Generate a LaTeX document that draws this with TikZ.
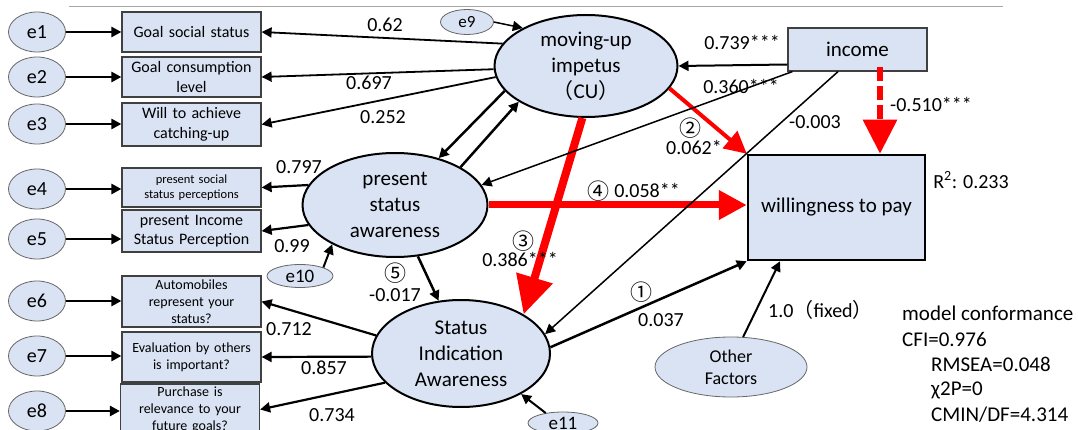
\documentclass[tikz,border=0pt]{standalone}
\usepackage{fontspec}
\setmainfont{Carlito}
\newfontfamily\cjkf{Noto Sans CJK JP}
\usetikzlibrary{arrows.meta,shapes.geometric}
\definecolor{nodefill}{HTML}{DAE3F3}
\definecolor{redc}{HTML}{FF0000}
\newcommand\szBig{\fontsize{21}{26}\selectfont}
\newcommand\szNum{\fontsize{20}{24}\selectfont}
\newcommand\szBox{\fontsize{16}{19.5}\selectfont}
\newcommand\szMid{\fontsize{14}{17}\selectfont}
\newcommand\szSmall{\fontsize{12.5}{15}\selectfont}
\begin{document}
\begin{tikzpicture}[x=1pt,y=-1pt,
  errE/.style={ellipse,draw=black!60,line width=0.8pt,fill=nodefill,minimum width=57pt,minimum height=40pt,inner sep=0pt,font=\fontsize{20}{24}\selectfont},
  smallE/.style={ellipse,draw=black!60,line width=0.8pt,fill=nodefill,inner sep=0pt,font=\fontsize{19}{22}\selectfont},
  obs/.style={rectangle,draw=black!75,line width=1.2pt,fill=nodefill,minimum width=139pt,inner sep=1pt,align=center,text width=135pt,font=\szBox},
  lat/.style={ellipse,draw=black,line width=2pt,fill=nodefill,inner sep=0pt,align=center,font=\szBig},
  arrT/.style={-{Triangle[length=10pt,width=10pt]},line width=1.8pt},
  lab/.style={inner sep=0pt,font=\szNum},
  circ/.style={inner sep=0pt,font=\cjkf\fontsize{22}{24}\selectfont}
]
\useasboundingbox (0,0) rectangle (1078,430);
\draw[black!35,line width=1pt] (69,7) -- (1003,7);

% error terms
\node[errE] (e1) at (37,32) {e1};
\node[errE] (e2) at (37,77) {e2};
\node[errE] (e3) at (37,124) {e3};
\node[errE] (e4) at (37,189) {e4};
\node[errE] (e5) at (37,239) {e5};
\node[errE] (e6) at (37,301) {e6};
\node[errE] (e7) at (37,356) {e7};
\node[errE] (e8) at (37,411) {e8};

% observed boxes
\node[obs,minimum height=40pt] (b1) at (191.5,32) {Goal social status};
\node[obs,minimum height=40pt] (b2) at (191.5,77) {Goal consumption\\level};
\node[obs,minimum height=43pt] (b3) at (191.5,124.5) {Will to achieve\\catching-up};
\node[obs,minimum height=39pt,font=\szSmall] (b4) at (191.5,187.5) {present social\\status perceptions};
\node[obs,minimum height=42pt] (b5) at (191.5,231) {present Income\\Status Perception};
\node[obs,minimum height=51pt,font=\szMid] (b6) at (191.5,301.5) {Automobiles\\represent your\\status?};
\node[obs,minimum height=50pt,font=\szMid] (b7) at (191.5,357) {Evaluation by others\\is important?};
\node[obs,minimum height=51pt,font=\szMid] (b8) at (190,409.5) {Purchase is\\relevance to your\\future goals?};

% latent
\node[lat,minimum width=183pt,minimum height=102pt] (mu) at (586,66) {moving-up\\impetus\\{\cjkf （}CU{\cjkf ）}};
\node[lat,minimum width=185pt,minimum height=104pt] (pr) at (395,205) {present\\status\\awareness};
\node[lat,minimum width=178pt,minimum height=107pt] (sia) at (461,353.5) {Status\\Indication\\Awareness};
\node[smallE,minimum width=53pt,minimum height=25pt,font=\fontsize{17}{20}\selectfont] (e9) at (467,22) {e9};
\node[smallE,minimum width=66pt,minimum height=23pt] (e10) at (300,276) {e10};
\node[smallE,minimum width=70pt,minimum height=22pt] (e11) at (563,423) {e11};
\node[smallE,minimum width=152pt,minimum height=60pt,align=center,font=\fontsize{18}{22}\selectfont] (oth) at (731,367) {Other\\Factors};
\node[rectangle,draw=black!75,line width=1.2pt,fill=nodefill,minimum width=139pt,minimum height=43pt,font=\szBig] (inc) at (857.5,49.5) {income};
\node[rectangle,draw=black,line width=2.5pt,fill=nodefill,minimum width=177pt,minimum height=105pt,font=\szBig] (wtp) at (836.5,207.5) {willingness to pay};

% e -> boxes
\foreach \i in {1,...,8}{
  \draw[arrT,line width=2.5pt] (e\i.east) -- (e\i.east -| b\i.west);
}

% red paths
\draw[redc,line width=4pt,-{Triangle[length=22pt,width=22pt]}] (mu.345) -- (wtp.north west);
\draw[redc,line width=7pt,-{Triangle[length=28pt,width=28pt]}] (pr.east) -- (pr.east -| wtp.west);
\draw[redc,line width=8pt,-{Triangle[length=38pt,width=36pt]}] (mu.266) -- (sia.32);
\draw[redc,line width=6pt,dash pattern=on 14pt off 5pt,-{Triangle[length=34pt,width=33pt]}] ([xshift=22.5pt,yshift=5pt]inc.south) -- ([xshift=22.5pt]inc.south |- wtp.north);

% moving-up loadings
\draw[arrT] (mu.165) -- (b1.east);
\draw[arrT] (mu.182) -- (b2.east);
\draw[arrT] (mu.187) -- (b3.east);
\draw[arrT,line width=1.5pt] (e9.east) -- (mu.149);
\draw[arrT,line width=2.5pt] (mu.197) -- (pr.47);
\draw[arrT,line width=2.5pt] (pr.30) -- (mu.208);

% income
\draw[arrT,line width=2pt] ([yshift=-15pt]inc.west) -- (mu.east);
\draw[arrT,line width=1.5pt] ([xshift=5pt]inc.south west) -- (pr.13);
\draw[arrT,line width=1.5pt] ([xshift=-19.5pt]inc.south) -- (sia.13);

% present status
\draw[arrT,line width=2.2pt] (pr.167) -- (b4.east);
\draw[arrT,line width=2.2pt] (pr.193) -- (b5.east);
\draw[arrT,line width=2pt] (e10.20) -- (pr.212);
\draw[arrT,line width=2.5pt] (pr.294) -- (sia.113);

% status indication
\draw[arrT,line width=2.2pt] (sia.168) -- (b6.east);
\draw[arrT,line width=2.2pt] (sia.182) -- (b7.east);
\draw[arrT,line width=2.2pt] (sia.201) -- (b8.east);
\draw[arrT,line width=2pt] (e11.150) -- (sia.326);
\draw[arrT,line width=2.5pt] (sia.4) -- (wtp.south west);
\draw[arrT,line width=2pt] (oth.68) -- ([xshift=-56.5pt]wtp.south);

% labels
\node[lab] (l1) at (385,25) {0.62};
\node[lab] (l2) at (369,83) {0.697};
\node[lab] (l3) at (383,117) {0.252};
\node[lab] (l4) at (742,42) {0.739***};
\node[lab] (l5) at (741,86) {0.360***};
\node[lab] (l6) at (815,122) {-0.003};
\node[lab] (l7) at (931,104) {-0.510***};
\node[lab] (l8) at (971,180) {R\textsuperscript{2}: 0.233};
\node[circ] (c2) at (690,128) {②};
\node[lab] (l9) at (694,147) {0.062*};
\node[circ] (c4) at (598,191) {④};
\node[lab] (l10) at (647,190) {0.058**};
\node[lab] (l11) at (299,167) {0.797};
\node[lab] (l12) at (292,246) {0.99};
\node[circ] (c5) at (395,273) {⑤};
\node[lab] (l13) at (395,295) {-0.017};
\node[circ] (c3) at (523,241) {③};
\node[lab] (l14) at (520,259) {0.386***};
\node[lab] (l15) at (289,329) {0.712};
\node[lab] (l16) at (324,368) {0.857};
\node[lab] (l17) at (332,415) {0.734};
\node[circ] (c1) at (641,292) {①};
\node[lab] (l18) at (661,320) {0.037};
\node[lab,anchor=west] (l19) at (768,310) {1.0{\cjkf （}fixed{\cjkf ）}};
\node[lab,anchor=west,font=\szBig] (m1) at (902,313) {model conformance};
\node[lab,anchor=west,font=\szBig] (m2) at (902,339) {CFI=0.976};
\node[lab,anchor=west,font=\szBig] (m3) at (931,364) {RMSEA=0.048};
\node[lab,anchor=west,font=\szBig] (m4) at (931,390) {χ2P=0};
\node[lab,anchor=west,font=\szBig] (m5) at (931,415) {CMIN/DF=4.314};
\end{tikzpicture}
\end{document}
